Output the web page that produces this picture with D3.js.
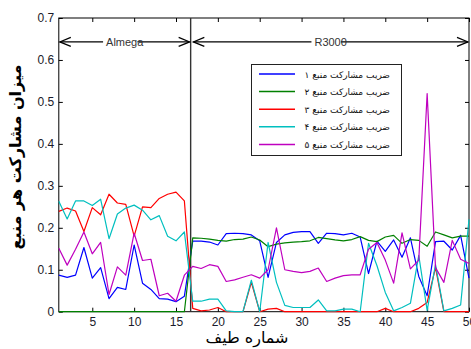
<!DOCTYPE html>
<html>
<head>
<meta charset="utf-8">
<script src="https://cdn.jsdelivr.net/npm/d3@7"></script>
<style>
	body { margin: 0; background: #fff; }
	svg { display: block; }
</style>
</head>
<body>
<svg id="chart"></svg>
<script>
// spectrum number 1..50
const spectra = d3.range(1, 51);

// contribution of each source
const source1 = [0.087, 0.082, 0.087, 0.153, 0.080, 0.105, 0.031, 0.058, 0.053, 0.159,
                 0.068, 0.053, 0.031, 0.030, 0.024, 0.037, 0.168, 0.168, 0.166, 0.159,
                 0.186, 0.187, 0.186, 0.183, 0.169, 0.082, 0.165, 0.183, 0.189, 0.191,
                 0.191, 0.163, 0.187, 0.186, 0.183, 0.187, 0.178, 0.091, 0.168, 0.144,
                 0.171, 0.130, 0.176, 0.084, 0.038, 0.167, 0.168, 0.147, 0.182, 0.080];
const source2 = [0, 0, 0, 0, 0, 0, 0, 0, 0, 0,
                 0, 0, 0, 0, 0, 0, 0.176, 0.175, 0.173, 0.170,
                 0.168, 0.172, 0.173, 0.178, 0.171, 0.155, 0.161, 0.164, 0.166, 0.167,
                 0.169, 0.177, 0.174, 0.171, 0.169, 0.172, 0.179, 0.170, 0.167, 0.178,
                 0.182, 0.163, 0.172, 0.170, 0.156, 0.190, 0.183, 0.176, 0.180, 0.180];
const source3 = [0.239, 0.247, 0.240, 0.191, 0.248, 0.231, 0.280, 0.259, 0.256, 0.180,
                 0.250, 0.248, 0.270, 0.280, 0.285, 0.264, 0.008, 0.002, 0.004, 0.010,
                 0, 0, 0, 0.070, 0, 0.006, 0.008, 0, 0, 0,
                 0, 0, 0, 0, 0, 0, 0, 0, 0, 0.008,
                 0, 0, 0, 0.008, 0.022, 0.105, 0, 0, 0, 0];
const source4 = [0.263, 0.221, 0.264, 0.264, 0.253, 0.268, 0.174, 0.233, 0.247, 0.254,
                 0.242, 0.219, 0.229, 0.180, 0.169, 0.190, 0.025, 0.025, 0.030, 0.030,
                 0.002, 0, 0, 0.075, 0, 0.165, 0.070, 0.015, 0.010, 0.010,
                 0.010, 0.028, 0.002, 0.002, 0.006, 0.006, 0, 0.163, 0.110, 0.046,
                 0.002, 0.010, 0.020, 0.134, 0.003, 0.112, 0.002, 0.008, 0.016, 0.220];
const source5 = [0.151, 0.111, 0.149, 0.190, 0.138, 0.165, 0.041, 0.107, 0.087, 0.187,
                 0.122, 0.125, 0.038, 0.044, 0.025, 0.087, 0.108, 0.103, 0.112, 0.108,
                 0.072, 0.076, 0.082, 0.088, 0.080, 0.100, 0.200, 0.100, 0.096, 0.093,
                 0.096, 0.104, 0.072, 0.080, 0.086, 0.088, 0.088, 0.149, 0.165, 0.123,
                 0.068, 0.188, 0.102, 0.123, 0.520, 0.105, 0.070, 0.170, 0.125, 0.115];

const seriesNames = ["ضریب مشارکت منبع ۱", "ضریب مشارکت منبع ۲", "ضریب مشارکت منبع ۳",
                     "ضریب مشارکت منبع ۴", "ضریب مشارکت منبع ۵"];
const seriesColors = ["#0000ff", "#008000", "#ff0000", "#00bfbf", "#bf00bf"];
const allSeries = [source1, source2, source3, source4, source5];

const xTicks = [5, 10, 15, 20, 25, 30, 35, 40, 45, 50];
const yTicks = [0, 0.1, 0.2, 0.3, 0.4, 0.5, 0.6, 0.7];

// instrument change and region labels
const splitAt = 16.75;
const regions = [{ name: "Almega", from: 1, to: splitAt }, { name: "R3000", from: 16.95, to: 50 }];
const arrowLevel = 0.643;

const xTitle = "شماره طیف";
const yTitle = "میزان مشارکت هر منبع";

const width = 471, height = 349;
const plotL = 58.8, plotR = 469, plotT = 18, plotB = 311.7;
const persianFont = "'DejaVu Sans', sans-serif";
const latinFont = "Arial, 'Liberation Sans', sans-serif";

const svg = d3.select("#chart").attr("width", width).attr("height", height);

const x = d3.scaleLinear([1, 50], [plotL, plotR]);
const y = d3.scaleLinear([0, 0.7], [plotB, plotT]);

// axes, ticks pointing inwards like matlab
svg.append("g")
   .attr("transform", `translate(0, ${plotB})`)
   .call(d3.axisBottom(x).tickValues(xTicks).tickSizeInner(-4).tickSizeOuter(0).tickPadding(6))
   .call(g => g.select(".domain").remove())
   .attr("font-size", 12).attr("font-family", latinFont)
   .call(g => g.selectAll("text").attr("fill", "#1a1a2a"));

svg.append("g")
   .attr("transform", `translate(${plotL}, 0)`)
   .call(d3.axisLeft(y).tickValues(yTicks).tickFormat(d3.format(".1~f")).tickSizeInner(-4).tickSizeOuter(0).tickPadding(4.5))
   .call(g => g.select(".domain").remove())
   .attr("font-size", 12).attr("font-family", latinFont)
   .call(g => g.selectAll("text").attr("fill", "#1a1a2a"));

svg.append("g")
   .attr("transform", `translate(0, ${plotT})`)
   .call(d3.axisTop(x).tickValues(xTicks).tickSizeInner(-4).tickSizeOuter(0).tickFormat(""))
   .call(g => g.select(".domain").remove());

svg.append("g")
   .attr("transform", `translate(${plotR}, 0)`)
   .call(d3.axisRight(y).tickValues(yTicks).tickSizeInner(-4).tickSizeOuter(0).tickFormat(""))
   .call(g => g.select(".domain").remove());

// frame
svg.append("rect")
   .attr("x", plotL).attr("y", plotT)
   .attr("width", plotR - plotL).attr("height", plotB - plotT)
   .attr("fill", "none").attr("stroke", "#000").attr("stroke-width", 1);

// separator between the two instruments
svg.append("line")
   .attr("x1", x(splitAt)).attr("x2", x(splitAt))
   .attr("y1", plotT).attr("y2", plotB)
   .attr("stroke", "#333").attr("stroke-width", 1.4);

// double arrows with labels
const ay = y(arrowLevel);
const arrowHead = (px, dir) => `M${px + dir * 11},${ay - 4.5}L${px},${ay}L${px + dir * 11},${ay + 4.5}`;
regions.forEach(r => {
	const x0 = x(r.from), x1 = x(r.to);
	const cx = (x0 + x1) / 2;
	const label = svg.append("text")
	                 .attr("x", cx).attr("y", ay + 4)
	                 .attr("text-anchor", "middle")
	                 .attr("font-family", latinFont).attr("font-size", 11)
	                 .attr("fill", "#333")
	                 .text(r.name);
	const w = label.node().getComputedTextLength();
	const g = svg.append("g")
	             .attr("stroke", "#000").attr("stroke-width", 1.2).attr("fill", "none");
	g.append("line").attr("x1", x0 + 1).attr("x2", cx - w / 2 - 3).attr("y1", ay).attr("y2", ay);
	g.append("line").attr("x1", cx + w / 2 - 6).attr("x2", x1 - 1).attr("y1", ay).attr("y2", ay);
	g.append("path").attr("d", arrowHead(x0 + 1, 1));
	g.append("path").attr("d", arrowHead(x1 - 1, -1));
	label.raise();
});

// data lines
const line = d3.line()
               .x((d, i) => x(spectra[i]))
               .y(d => y(d));

svg.append("g")
   .attr("fill", "none")
   .attr("stroke-width", 1.2)
   .attr("stroke-linejoin", "round")
   .selectAll("path")
   .data(allSeries)
   .join("path")
   .attr("stroke", (d, i) => seriesColors[i])
   .attr("d", d => line(d));

// legend
const legend = svg.append("g");
legend.append("rect")
      .attr("x", 251.5).attr("y", 64.5)
      .attr("width", 150).attr("height", 91)
      .attr("fill", "#fff").attr("stroke", "#222").attr("stroke-width", 1);

const item = legend.selectAll("g.item")
                   .data(seriesNames)
                   .join("g")
                   .attr("class", "item")
                   .attr("transform", (d, i) => `translate(0, ${74 + i * 17.6})`);
item.append("line")
    .attr("x1", 259).attr("x2", 295)
    .attr("stroke", (d, i) => seriesColors[i])
    .attr("stroke-width", 1.5);
item.append("text")
    .attr("x", 390).attr("y", 3.5)
    .attr("text-anchor", "end")
    .attr("font-family", persianFont).attr("font-size", 9)
    .attr("fill", "#111")
    .text(d => d);

// axis titles
svg.append("text")
   .attr("x", 247).attr("y", 343)
   .attr("text-anchor", "middle")
   .attr("font-family", persianFont).attr("font-size", 16)
   .attr("fill", "#000")
   .text(xTitle);

svg.append("text")
   .attr("transform", `translate(21, 157) rotate(-90)`)
   .attr("text-anchor", "middle")
   .attr("font-family", persianFont).attr("font-size", 16).attr("font-weight", "bold")
   .attr("fill", "#000")
   .text(yTitle);
</script>
</body>
</html>
